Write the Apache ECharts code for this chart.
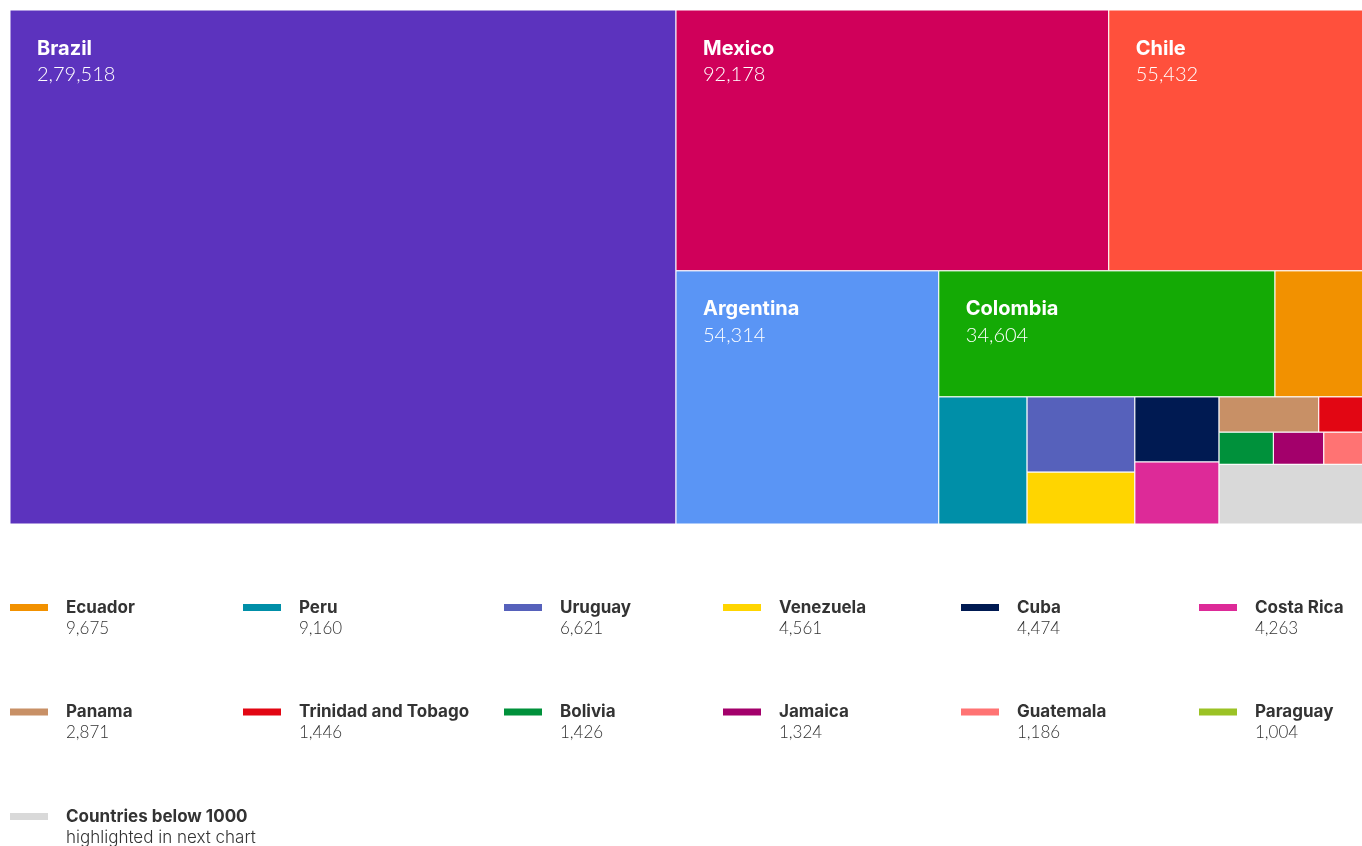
<!DOCTYPE html>
<html>
<head>
<meta charset="utf-8">
<title>Latin America treemap</title>
<script src="https://cdn.jsdelivr.net/npm/echarts@6/dist/echarts.min.js"></script>
<style>
  html, body { margin: 0; padding: 0; background: #ffffff; overflow: hidden; }
  #chart { width: 1362px; height: 846px; }
</style>
</head>
<body>
<div id="chart"></div>
<script>
// ---- data -------------------------------------------------------------
const countries = [
  'Brazil', 'Mexico', 'Chile', 'Argentina', 'Colombia', 'Ecuador', 'Peru',
  'Uruguay', 'Venezuela', 'Cuba', 'Costa Rica', 'Panama', 'Trinidad and Tobago',
  'Bolivia', 'Jamaica', 'Guatemala', 'Paraguay', 'Countries below 1000'
];
const values = [
  279518, 92178, 55432, 54314, 34604, 9675, 9160,
  6621, 4561, 4474, 4263, 2871, 1446,
  1426, 1324, 1186, 1004, 7300
];
const colors = [
  '#5c33be', '#d0005a', '#ff503c', '#5a95f5', '#14aa05', '#f29100', '#008fa8',
  '#5661bb', '#ffd500', '#001a52', '#dd2a98', '#c89066', '#e20613',
  '#00913b', '#a3006b', '#ff7373', '#9bc225', '#d9d9d9'
];

// tiles that carry their name and value inside the rectangle
const labelledTiles = ['Brazil', 'Mexico', 'Chile', 'Argentina', 'Colombia'];

// tiling order: the large markets first, the small ones share the last block
const mainTiles = ['Brazil', 'Mexico', 'Chile', 'Argentina', 'Colombia', 'Ecuador', 'Peru'];
const cornerTiles = [
  'Uruguay', 'Venezuela', 'Cuba', 'Costa Rica', 'Panama', 'Trinidad and Tobago',
  'Bolivia', 'Jamaica', 'Guatemala', 'Countries below 1000'
];

// legend entries, read row by row
const legendEntries = [
  'Ecuador', 'Peru', 'Uruguay', 'Venezuela', 'Cuba', 'Costa Rica',
  'Panama', 'Trinidad and Tobago', 'Bolivia', 'Jamaica', 'Guatemala', 'Paraguay',
  'Countries below 1000'
];
const legendNotes = { 'Countries below 1000': 'highlighted in next chart' };

// ---- helpers ----------------------------------------------------------
const HEAD_FONT = 'Inter, "Noto Sans", sans-serif';
const NUM_FONT = 'Lato, "Noto Sans", sans-serif';

// Indian digit grouping: 279518 -> 2,79,518
function formatIN(n) {
  const s = String(Math.round(n));
  if (s.length <= 3) return s;
  const head = s.slice(0, -3).replace(/\B(?=(\d{2})+(?!\d))/g, ',');
  return head + ',' + s.slice(-3);
}
const valueOf = name => values[countries.indexOf(name)];

// squarified tiling (ratio 1) of nodes inside [x0,x1] x [y0,y1]
function squarify(nodes, x0, y0, x1, y1) {
  let value = nodes.reduce((a, d) => a + d.value, 0);
  let i0 = 0, i1 = 0;
  const n = nodes.length;
  while (i0 < n) {
    const dx = x1 - x0, dy = y1 - y0;
    let sumValue = nodes[i1++].value;
    let minV = sumValue, maxV = sumValue;
    const alpha = Math.max(dy / dx, dx / dy) / value;
    let beta = sumValue * sumValue * alpha;
    let minRatio = Math.max(maxV / beta, beta / minV);
    for (; i1 < n; ++i1) {
      const v = nodes[i1].value;
      sumValue += v;
      if (v < minV) minV = v;
      if (v > maxV) maxV = v;
      beta = sumValue * sumValue * alpha;
      const r = Math.max(maxV / beta, beta / minV);
      if (r > minRatio) { sumValue -= v; break; }
      minRatio = r;
    }
    const row = nodes.slice(i0, i1);
    if (dx < dy) {
      // row across the top, left to right
      const yk = y0 + dy * sumValue / value;
      let x = x0;
      row.forEach(d => {
        const w = dx * d.value / sumValue;
        d.rect = [x, y0, x + w, yk];
        x += w;
      });
      y0 = yk;
    } else {
      // column on the left, top to bottom
      const xk = x0 + dx * sumValue / value;
      let y = y0;
      row.forEach(d => {
        const h = dy * d.value / sumValue;
        d.rect = [x0, y, xk, y + h];
        y += h;
      });
      x0 = xk;
    }
    value -= sumValue;
    i0 = i1;
  }
}

// Tiles are squarified in a 3:2 layout space; the axes stretch that
// space over the full plot area.
const LAYOUT_W = 1.5, LAYOUT_H = 1;
const rootTiles = mainTiles.map(name => ({ name, value: valueOf(name) }));
const cornerBlock = { children: cornerTiles.map(name => ({ name, value: valueOf(name) })) };
cornerBlock.value = cornerBlock.children.reduce((a, d) => a + d.value, 0);
rootTiles.push(cornerBlock);
squarify(rootTiles, 0, 0, LAYOUT_W, LAYOUT_H);
squarify(cornerBlock.children, ...cornerBlock.rect);

const tileRect = {};
rootTiles.concat(cornerBlock.children).forEach(d => { if (d.name) tileRect[d.name] = d.rect; });

// ---- series ------------------------------------------------------------
const series = countries.map((name, i) => ({
  type: 'custom',
  name,
  coordinateSystem: 'cartesian2d',
  silent: true,
  animation: false,
  clip: false,
  itemStyle: { color: colors[i] },
  encode: { x: [0, 2], y: [1, 3] },
  data: tileRect[name] ? [tileRect[name]] : [],
  renderItem: (params, api) => {
    const p0 = api.coord([api.value(0), api.value(1)]);
    const p1 = api.coord([api.value(2), api.value(3)]);
    const kids = [{
      type: 'rect',
      shape: { x: p0[0], y: p0[1], width: p1[0] - p0[0], height: p1[1] - p0[1] },
      style: { fill: colors[i], stroke: '#ffffff', lineWidth: 1 }
    }];
    if (labelledTiles.includes(name)) {
      kids.push({
        type: 'text',
        x: p0[0] + 27, y: p0[1] + 38.5,
        style: {
          text: name, fill: '#ffffff',
          fontFamily: HEAD_FONT, fontSize: 20, fontWeight: 700,
          align: 'left', verticalAlign: 'middle'
        }
      });
      kids.push({
        type: 'text',
        x: p0[0] + 27, y: p0[1] + 65,
        style: {
          text: formatIN(values[i]), fill: '#ffffff',
          fontFamily: NUM_FONT, fontSize: 20, fontWeight: 300,
          align: 'left', verticalAlign: 'middle'
        }
      });
    }
    return { type: 'group', children: kids };
  }
}));

// ---- legend --------------------------------------------------------------
const legendColumns = 6;
const legendX = [10, 243, 504, 723, 961, 1199];
const legendNote = name =>
  legendNotes[name] !== undefined ? legendNotes[name] : formatIN(valueOf(name));

const legends = legendX.map((x, c) => ({
  left: x,
  top: 578,
  height: 320,
  orient: 'vertical',
  padding: 0,
  itemGap: 45.5,
  itemWidth: 38,
  itemHeight: 7,
  icon: 'rect',
  selectedMode: false,
  data: legendEntries.filter((_, k) => k % legendColumns === c),
  formatter: name => {
    const note = legendNote(name);
    const style = legendNotes[name] !== undefined ? 't' : 'v';
    return `{s| }\n{n|${name}}\n{${style}|${note}}`;
  },
  textStyle: {
    rich: {
      s: { fontSize: 17, lineHeight: 21, fontFamily: NUM_FONT },
      n: { fontSize: 17, lineHeight: 21, fontFamily: HEAD_FONT, fontWeight: 700,
           color: '#333333', padding: [0, 0, 0, 13] },
      v: { fontSize: 17, lineHeight: 21, fontFamily: NUM_FONT, fontWeight: 300,
           color: '#333333', padding: [0, 0, 0, 13] },
      t: { fontSize: 17, lineHeight: 21, fontFamily: HEAD_FONT, fontWeight: 300,
           color: '#333333', padding: [0, 0, 0, 13] }
    }
  }
}));

// ---- chart -----------------------------------------------------------------
const chart = echarts.init(document.getElementById('chart'), null, { renderer: 'canvas' });
chart.setOption({
  backgroundColor: '#ffffff',
  animation: false,
  color: colors,
  grid: {
    left: 10, top: 10, width: 1359, height: 514,
    containLabel: false, outerBoundsMode: 'none'
  },
  xAxis: { type: 'value', min: 0, max: LAYOUT_W, show: false },
  yAxis: { type: 'value', min: 0, max: LAYOUT_H, inverse: true, show: false },
  legend: legends,
  series
});
</script>
</body>
</html>
